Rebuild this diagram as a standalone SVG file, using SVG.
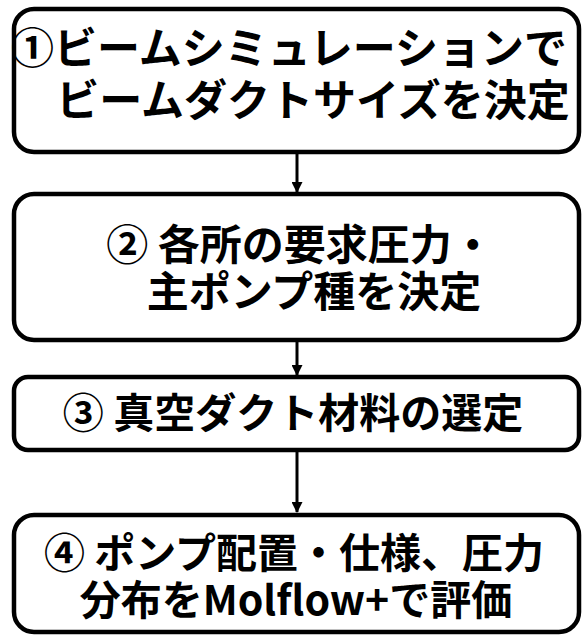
<svg xmlns="http://www.w3.org/2000/svg" width="584" height="635" viewBox="0 0 584 635">
<style>
.box{fill:#fff;stroke:#000;stroke-width:4.5}
.t{font-family:"Noto Sans CJK JP","Noto Sans",sans-serif;font-weight:bold;font-size:41px;fill:#000;text-anchor:middle}
.big{font-size:43px}
.c{stroke:#000;stroke-width:3;fill:none}
</style>
<defs>
<marker id="ah" markerWidth="11" markerHeight="11" refX="10" refY="5.5" orient="auto" markerUnits="userSpaceOnUse">
<path d="M0,0 L11,5.5 L0,11 Z" fill="#000"/>
</marker>
</defs>
<rect width="584" height="635" fill="#fff"/>
<g id="connectors">
<line class="c" x1="297" y1="153" x2="297" y2="192" marker-end="url(#ah)"/>
<line class="c" x1="297" y1="340" x2="297" y2="375" marker-end="url(#ah)"/>
<line class="c" x1="297" y1="450" x2="297" y2="512" marker-end="url(#ah)"/>
</g>
<g id="node1">
<rect class="box" x="14" y="9" width="565" height="143" rx="20"/>
<text class="t big" x="289" y="64">①ビームシミュレーションで</text>
<text class="t big" x="313" y="116">ビームダクトサイズを決定</text>
</g>
<g id="node2">
<rect class="box" x="14" y="194" width="565" height="146" rx="20"/>
<text class="t" x="300" y="260" style="font-size:42px">② 各所の要求圧力・</text>
<text class="t" x="314" y="307" style="font-size:42px">主ポンプ種を決定</text>
</g>
<g id="node3">
<rect class="box" x="14" y="377" width="565" height="73" rx="14"/>
<text class="t" x="293" y="428">③ 真空ダクト材料の選定</text>
</g>
<g id="node4">
<rect class="box" x="14" y="515" width="565" height="117" rx="20"/>
<text class="t" x="294" y="568">④ ポンプ配置・仕様、圧力</text>
<text class="t" x="296" y="615">分布をMolflow+で評価</text>
</g>
</svg>
